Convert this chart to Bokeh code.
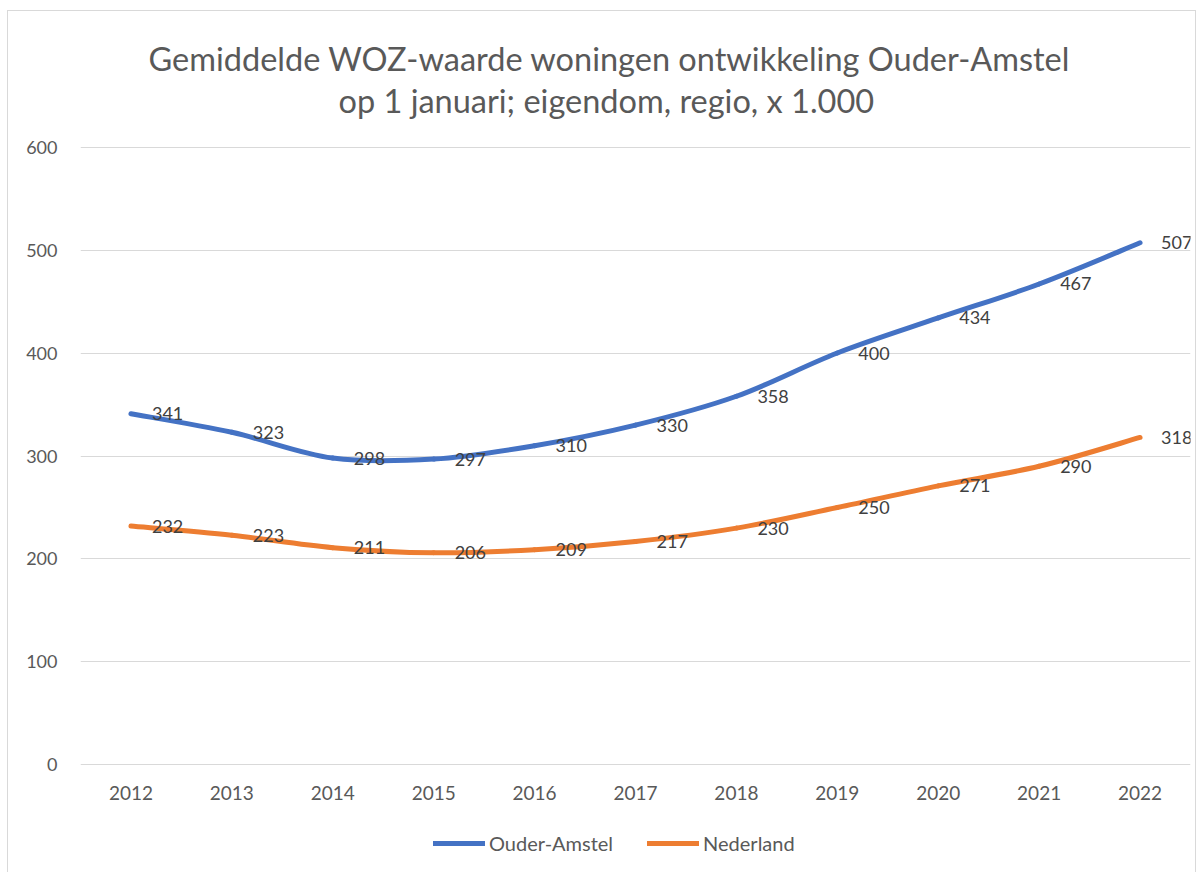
from bokeh.plotting import figure
from bokeh.layouts import column
from bokeh.models import Range1d, FixedTicker, Title, Legend, LegendItem
from bokeh.embed import file_html
from bokeh.resources import INLINE
from bokeh.core.properties import value

years = ["2012", "2013", "2014", "2015", "2016", "2017", "2018", "2019", "2020", "2021", "2022"]
ouder_amstel = [341, 323, 298, 297, 310, 330, 358, 400, 434, 467, 507]
nederland = [232, 223, 211, 206, 209, 217, 230, 250, 271, 290, 318]
y_ticks = [0, 100, 200, 300, 400, 500, 600]
series_names = ["Ouder-Amstel", "Nederland"]
title_lines = ["Gemiddelde WOZ-waarde woningen ontwikkeling Ouder-Amstel",
               "op 1 januari; eigendom, regio, x 1.000"]

BLUE = "#4472C4"
ORANGE = "#ED7D31"
FONT = "Lato"
colors = [BLUE, ORANGE]
series = [ouder_amstel, nederland]

W = 1187
H_MAIN = 799
H_LEG = 62

p = figure(width=W, height=H_MAIN, output_backend="svg", toolbar_location=None,
           x_range=Range1d(-0.5, len(years) - 0.5), y_range=Range1d(-0.5, 600.5),
           min_border_left=72, min_border_right=5, min_border_top=135, min_border_bottom=45)
p.outline_line_color = None
p.background_fill_color = "white"
p.border_fill_color = "white"

p.xgrid.grid_line_color = None
p.ygrid.grid_line_color = "#d9d9d9"
p.ygrid.grid_line_width = 1

p.xaxis.ticker = FixedTicker(ticks=list(range(len(years))))
p.xaxis.major_label_overrides = {i: y for i, y in enumerate(years)}
p.yaxis.ticker = FixedTicker(ticks=y_ticks)
for ax in (p.xaxis, p.yaxis):
    ax.axis_line_color = None
    ax.major_tick_line_color = None
    ax.minor_tick_line_color = None
    ax.major_label_text_font = FONT
    ax.major_label_text_color = "#595959"
p.xaxis.major_label_text_font_size = "19px"
p.yaxis.major_label_text_font_size = "18px"
p.xaxis.major_label_standoff = 14
p.yaxis.major_label_standoff = 17


def bezier_parts(ys):
    n = len(ys)
    xs = list(range(n))
    out = dict(x0=[], y0=[], x1=[], y1=[], cx0=[], cy0=[], cx1=[], cy1=[])
    for i in range(n - 1):
        pm = max(i - 1, 0)
        pp = min(i + 2, n - 1)
        out["x0"].append(xs[i]); out["y0"].append(ys[i])
        out["x1"].append(xs[i + 1]); out["y1"].append(ys[i + 1])
        out["cx0"].append(xs[i] + (xs[i + 1] - xs[pm]) / 6)
        out["cy0"].append(ys[i] + (ys[i + 1] - ys[pm]) / 6)
        out["cx1"].append(xs[i + 1] - (xs[pp] - xs[i]) / 6)
        out["cy1"].append(ys[i + 1] - (ys[pp] - ys[i]) / 6)
    return out


for vals, col in zip(series, colors):
    p.bezier(line_color=col, line_width=5, line_cap="round", **bezier_parts(vals))
    p.text(x=list(range(len(years))), y=vals, text=[str(v) for v in vals],
           x_offset=21, text_align="left", text_baseline="middle",
           text_font=value(FONT), text_font_size="18px", text_color="#404040")

p.title = None
# spacer between the plot frame and the two title lines
p.add_layout(Title(text=" ", text_font_size="10px", standoff=13), "above")
offsets = [68, 258]
standoffs = [0, 2]
for txt, off, so in reversed(list(zip(title_lines, offsets, standoffs))):
    p.add_layout(Title(text=txt, align="left", offset=off, standoff=so, text_font=FONT,
                       text_font_size="32.5px", text_font_style="normal",
                       text_color="#595959"), "above")

# legend strip below the chart (series lines lie outside its visible range)
lg = figure(width=W, height=H_LEG, output_backend="svg", toolbar_location=None,
            x_range=Range1d(100, 101), y_range=Range1d(0, 1),
            x_axis_type=None, y_axis_type=None, min_border=0)
lg.outline_line_color = None
lg.grid.visible = False
items = []
for name, vals, col in zip(series_names, series, colors):
    r = lg.line(x=list(range(len(years))), y=vals, line_color=col, line_width=5, line_cap="round")
    items.append(LegendItem(label=name, renderers=[r]))
legend = Legend(items=items, orientation="horizontal", location=(353, 17),
                glyph_width=52, glyph_height=20, label_height=24, label_standoff=4,
                spacing=34, padding=0, margin=0, border_line_color=None,
                background_fill_alpha=0, label_text_font=FONT, label_text_font_size="20px",
                label_text_color="#595959", label_text_baseline="middle")
lg.add_layout(legend)

page = column(p, lg, spacing=0,
              styles={"border": "1px solid #d9d9d9", "margin": "10px 0 0 7px"})

open("out.html", "w").write(file_html(page, INLINE))
